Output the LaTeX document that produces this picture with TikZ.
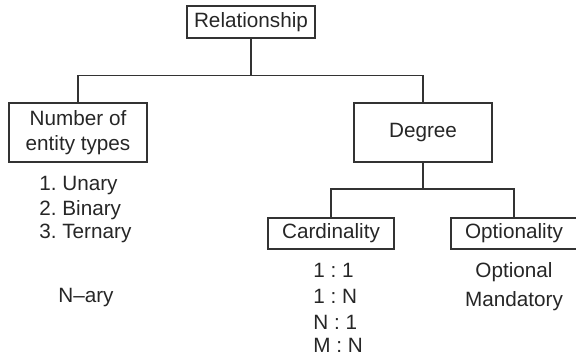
\documentclass[tikz,border=0pt]{standalone}
\usepackage{fontspec}
\setmainfont{Liberation Sans}
\frenchspacing

\begin{document}
\begin{tikzpicture}[x=0.5pt,y=-0.5pt,line width=0.7pt,draw=black!80,
    every node/.style={font=\fontsize{10.35}{12.5}\selectfont,text=black!85},
    box/.style={draw=black!80,inner sep=0pt}]
    \useasboundingbox (0,0) rectangle (576,355);

    \node[box,minimum width=64pt,minimum height=16pt] (rel) at (251,22) {Relationship};
    \node[box,minimum width=69pt,minimum height=29.5pt,align=center] (num) at (78,132.5) {Number of\\entity types};
    \node[box,minimum width=69pt,minimum height=29.5pt] (deg) at (423,132.5) {Degree};
    \node[box,minimum width=63pt,minimum height=15.5pt] (card) at (331,233.5) {Cardinality};
    \node[box,minimum width=63pt,minimum height=15.5pt] (opt) at (514,233.5) {Optionality};

    \coordinate (bus1) at (0,75.5);
    \coordinate (bus2) at (0,189);
    \draw (rel.south) -- (rel.south |- bus1);
    \draw (num.north) |- (bus1 -| deg.north) -- (deg.north);
    \draw (deg.south) -- (deg.south |- bus2);
    \draw (card.north) |- (bus2 -| opt.north) -- (opt.north);

    \foreach \t/\y [count=\i] in {1. Unary/190.5, 2. Binary/215, 3. Ternary/238.5}
        \node[anchor=base west] (arity\i) at (32,\y) {\t};
    \node[anchor=base west] (nary) at (51,302) {N--ary};

    \foreach \t/\y [count=\i] in {1 : 1/277.5, 1 : N/303.5, N : 1/329.5, M : N/352.5}
        \node[anchor=base west] (ratio\i) at (306,\y) {\t};

    \node[anchor=base] (optl) at (514,277.5) {Optional};
    \node[anchor=base] (mand) at (514,306.5) {Mandatory};
\end{tikzpicture}
\end{document}
